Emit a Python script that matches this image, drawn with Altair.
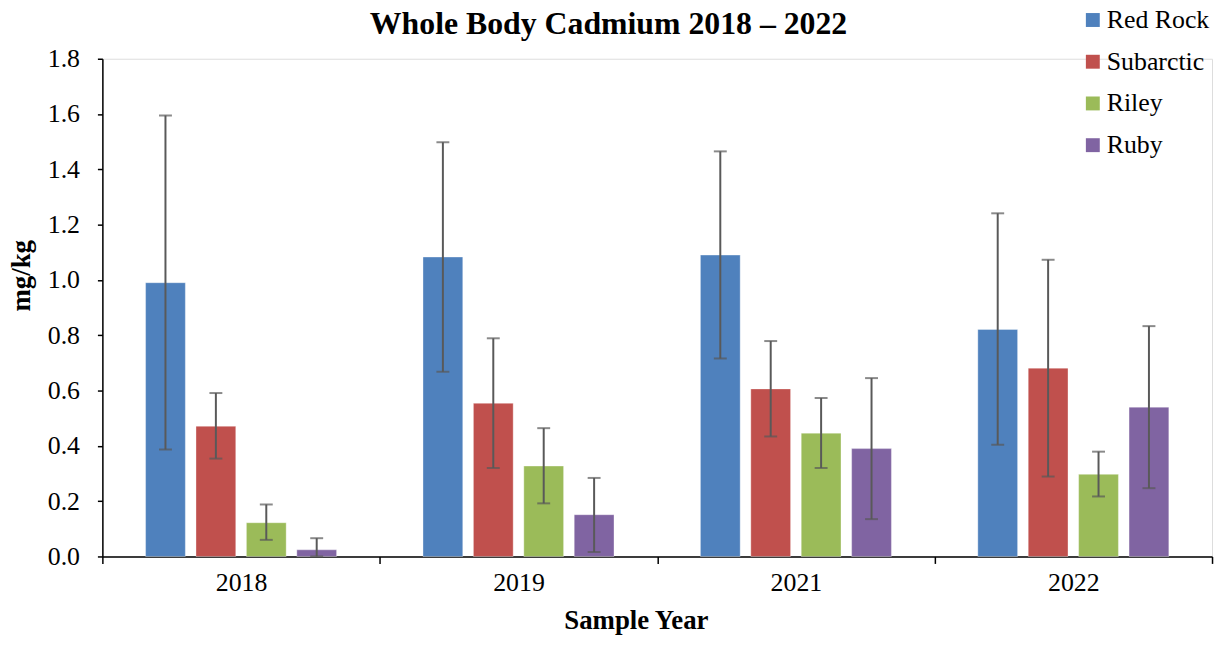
import altair as alt
import pandas as pd

years = ["2018", "2019", "2021", "2022"]
sites = ["Red Rock", "Subarctic", "Riley", "Ruby"]
colors = ["#4F81BD", "#C0504D", "#9BBB59", "#8064A2"]

red_rock = [0.99, 1.083, 1.09, 0.821]
subarctic = [0.471, 0.554, 0.606, 0.681]
riley = [0.122, 0.327, 0.446, 0.297]
ruby = [0.024, 0.151, 0.39, 0.54]

red_rock_low = [0.387, 0.668, 0.716, 0.404]
red_rock_high = [1.595, 1.498, 1.465, 1.241]
subarctic_low = [0.354, 0.32, 0.434, 0.289]
subarctic_high = [0.591, 0.789, 0.779, 1.073]
riley_low = [0.06, 0.192, 0.32, 0.217]
riley_high = [0.188, 0.464, 0.573, 0.379]
ruby_low = [0.0, 0.016, 0.135, 0.247]
ruby_high = [0.066, 0.284, 0.645, 0.833]

y_ticks = [0.0, 0.2, 0.4, 0.6, 0.8, 1.0, 1.2, 1.4, 1.6, 1.8]

series = {
    "Red Rock": (red_rock, red_rock_low, red_rock_high),
    "Subarctic": (subarctic, subarctic_low, subarctic_high),
    "Riley": (riley, riley_low, riley_high),
    "Ruby": (ruby, ruby_low, ruby_high),
}
rows = []
for s in sites:
    v, lo, hi = series[s]
    for i, y in enumerate(years):
        rows.append({"year": y, "site": s, "value": v[i], "low": lo[i], "high": hi[i]})
df = pd.DataFrame(rows)

FONT = "Liberation Serif"
W, H = 1117, 501

x_enc = alt.X("year:N", sort=years,
              scale=alt.Scale(paddingInner=0, paddingOuter=0),
              axis=alt.Axis(title="Sample Year", labelAngle=0, tickBand="extent",
                            tickSize=7, tickColor="black", tickWidth=1.5,
                            domainColor="black", domainWidth=1.5,
                            labelFont=FONT, labelFontSize=26, labelColor="black",
                            labelPadding=6,
                            titleFont=FONT, titleFontSize=27, titleFontWeight="bold",
                            titleColor="black", titleX=537, titleY=73,
                            titleBaseline="alphabetic", titleAnchor="start",
                            titleAlign="center"))
xo_enc = alt.XOffset("site:N", sort=sites,
                     scale=alt.Scale(paddingInner=0.211, paddingOuter=0.857))
y_scale = alt.Scale(domain=[0, 1.8], nice=False)

bars = alt.Chart(df).mark_bar(stroke="white", strokeWidth=1, strokeOpacity=0.35).encode(
    x=x_enc,
    xOffset=xo_enc,
    y=alt.Y("value:Q", scale=y_scale,
            axis=alt.Axis(title="mg/kg", values=y_ticks, format=".1f", grid=False,
                          tickSize=5, tickColor="black", tickWidth=1.5,
                          domainColor="black", domainWidth=1.5,
                          labelFont=FONT, labelFontSize=26, labelColor="black",
                          labelPadding=18,
                          titleFont=FONT, titleFontSize=27, titleFontWeight="bold",
                          titleColor="black", titleX=-81, titleY=218,
                          titleAngle=-90, titleBaseline="middle", titleAnchor="start",
                          titleAlign="center")),
    color=alt.Color("site:N", sort=sites,
                    scale=alt.Scale(domain=sites, range=colors),
                    legend=alt.Legend(title=None, orient="none", legendX=984, legendY=-52,
                                      symbolType="square", symbolSize=196,
                                      symbolStrokeWidth=0, symbolOpacity=1,
                                      labelFont=FONT, labelFontSize=26, labelColor="black",
                                      labelOffset=1, rowPadding=16, padding=0)),
)

stems = alt.Chart(df).mark_rule(color="#595959", strokeWidth=2).encode(
    x=alt.X("year:N", sort=years),
    xOffset=alt.XOffset("site:N", sort=sites),
    y=alt.Y("low:Q", scale=y_scale),
    y2="high:Q",
)
caps_hi = alt.Chart(df).mark_tick(color="#595959", orient="horizontal", size=13, thickness=2).encode(
    x=alt.X("year:N", sort=years),
    xOffset=alt.XOffset("site:N", sort=sites),
    y=alt.Y("high:Q", scale=y_scale),
)
caps_lo = alt.Chart(df).mark_tick(color="#595959", orient="horizontal", size=13, thickness=2).encode(
    x=alt.X("year:N", sort=years),
    xOffset=alt.XOffset("site:N", sort=sites),
    y=alt.Y("low:Q", scale=y_scale),
)

chart = alt.layer(bars, stems, caps_hi, caps_lo).properties(
    width=W, height=H,
    title=alt.TitleParams("Whole Body Cadmium 2018 – 2022", font=FONT, fontSize=32,
                          fontWeight="bold", color="black", anchor="middle",
                          frame="group", dx=-49, offset=-34),
    autosize=alt.AutoSizeParams(type="none"),
    padding={"left": 95, "top": 49, "right": 5, "bottom": 80},
).configure_view(stroke=None).configure(background="white")

chart.save("out.html", embed_options={"renderer": "svg", "actions": False})
